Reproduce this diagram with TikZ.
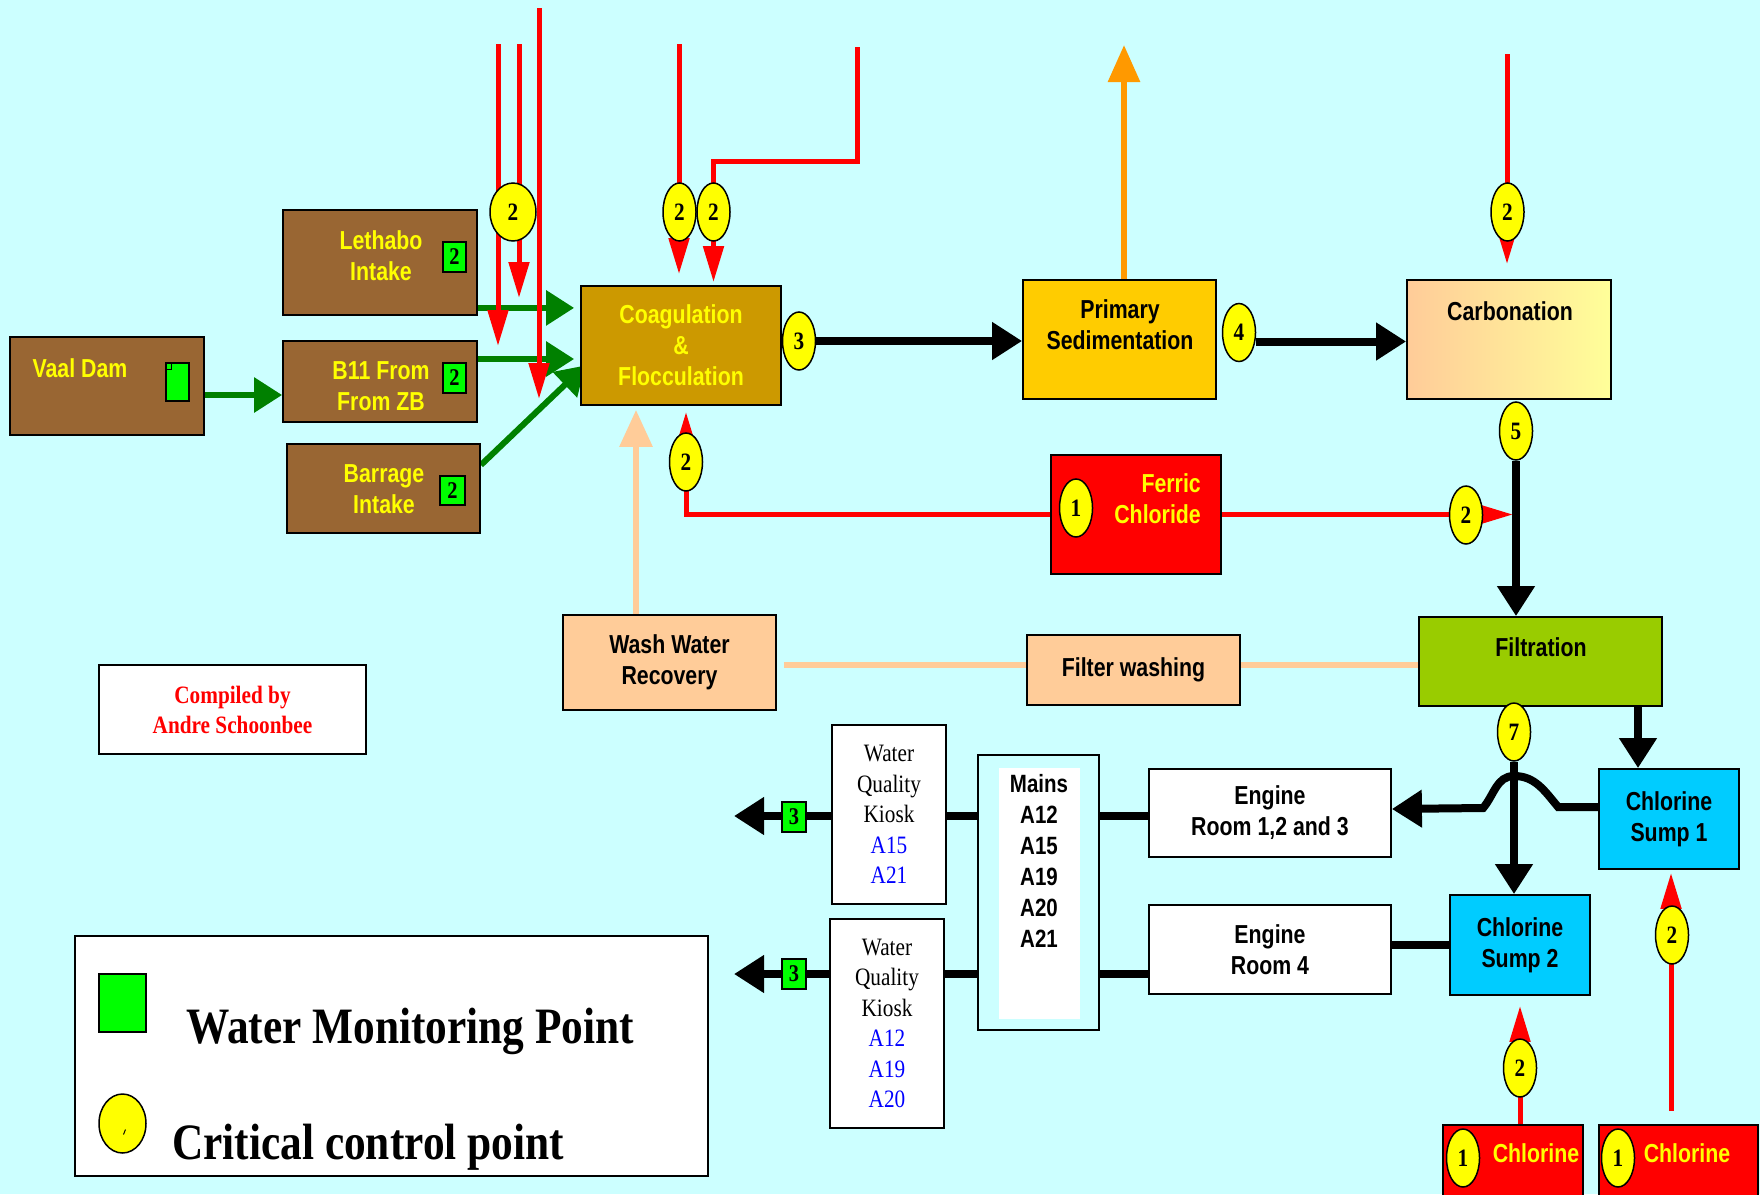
\documentclass[tikz,border=0pt]{standalone}
\usepackage{fontspec}
\setmainfont{Liberation Serif}
\newfontfamily\narrowsans[FakeStretch=0.82]{Liberation Sans}
\newfontfamily\narrowserif[FakeStretch=0.85]{Liberation Serif}
\usetikzlibrary{arrows.meta,shapes.geometric}

\definecolor{bgcyan}{HTML}{CCFFFF}
\definecolor{brownbox}{HTML}{996633}
\definecolor{coagcol}{HTML}{CC9900}
\definecolor{sedcol}{HTML}{FFCC00}
\definecolor{peach}{HTML}{FFCC99}
\definecolor{paleyel}{HTML}{FFFF99}
\definecolor{filtcol}{HTML}{99CC00}
\definecolor{sumpcol}{HTML}{00CCFF}
\definecolor{ccpyel}{HTML}{FFFF00}
\definecolor{txtyel}{HTML}{FFFF00}
\definecolor{wmpgreen}{HTML}{00FF00}
\definecolor{flowgreen}{HTML}{008000}
\definecolor{sludge}{HTML}{FF9900}

\pgfdeclarelayer{background}
\pgfdeclarelayer{pipes}
\pgfsetlayers{background,pipes,main}

\tikzset{
  plant/.style={draw,line width=1.8pt,inner sep=0pt,align=center,
    font=\narrowsans\bfseries\fontsize{26}{31}\selectfont},
  intake/.style={plant,fill=brownbox},
  lbl/.style={inner sep=0pt,align=center,font=\narrowsans\bfseries\fontsize{26}{31}\selectfont},
  kiosk/.style={plant,fill=white,minimum width=114pt,font=\narrowserif\fontsize{25}{30.5}\selectfont},
  legtxt/.style={inner sep=0pt,font=\narrowserif\bfseries\fontsize{51}{60}\selectfont},
  ccp/.style={ellipse,draw,line width=1.5pt,fill=ccpyel,inner sep=0pt,
    minimum width=33pt,minimum height=58pt,font=\narrowserif\bfseries\fontsize{25}{25}\selectfont},
  wmp/.style={draw,line width=1.8pt,fill=wmpgreen,inner sep=0pt,minimum width=23pt,
    minimum height=30pt,font=\narrowserif\bfseries\fontsize{24}{24}\selectfont},
  flow/.style={line width=8pt,-{Triangle[length=30pt,width=36pt]}},
  pipe/.style={line width=8pt},
  gflow/.style={flowgreen,line width=6pt,-{Triangle[length=28pt,width=34pt]}},
  chem/.style={red,line width=5pt,-{Triangle[length=36pt,width=20pt]}},
  wash/.style={peach,line width=6pt},
}

\begin{document}
\begin{tikzpicture}[x=1pt,y=-1pt]
\useasboundingbox (0,0) rectangle (1760,1194);
\begin{pgfonlayer}{background}
\fill[bgcyan] (0,0) rectangle (1760,1194);
\end{pgfonlayer}

% intakes
\node[intake,minimum width=194pt,minimum height=98pt] (vaal) at (107,386) {};
\node[lbl,text=txtyel] (vaaltxt) at (80,368) {Vaal Dam};
\node[wmp,minimum height=38pt] (vaalwmp) at (177.5,382) {};
\draw[line width=1pt] ([shift={(0,7)}]vaalwmp.north west) -| ([shift={(6,0)}]vaalwmp.north west);

\node[intake,minimum width=194pt,minimum height=105pt] (leth) at (380,262.5) {};
\node[lbl,text=txtyel] at (381,256) {Lethabo\\Intake};
\node[wmp] (lethwmp) at (454.5,257) {2};

\node[intake,minimum width=194pt,minimum height=81pt] (b11) at (380,381.5) {};
\node[lbl,text=txtyel] at (381,386) {B11 From\\From ZB};
\node[wmp] (b11wmp) at (454.5,378) {2};

\node[intake,minimum width=193pt,minimum height=89pt] (bar) at (383.5,488.5) {};
\node[lbl,text=txtyel] at (384,489) {Barrage\\Intake};
\node[wmp,minimum width=25pt,minimum height=29pt] (barwmp) at (452.5,490.5) {2};

% treatment train
\node[plant,fill=coagcol,text=txtyel,minimum width=200pt,minimum height=119pt] (coag) at (681,345.5) {Coagulation\\\&\\Flocculation};
\node[ccp] (c3) at (799,341) {3};
\node[plant,fill=sedcol,minimum width=193pt,minimum height=119pt] (prim) at (1119.5,339.5) {};
\node[lbl] at (1120,325) {Primary\\Sedimentation};
\node[ccp] (c4) at (1239,332.5) {4};
\node[plant,left color=peach,right color=paleyel,minimum width=204pt,minimum height=119pt] (carb) at (1509,339.5) {};
\node[lbl] at (1510,311) {Carbonation};
\node[ccp] (c2carb) at (1507.5,212) {2};
\node[ccp] (c5) at (1516,431) {5};

\node[plant,fill=red,minimum width=170pt,minimum height=119pt] (ferric) at (1136,514.5) {};
\node[lbl,text=txtyel,align=right,anchor=east] at (1201,499) {Ferric\\Chloride};
\node[ccp] (c1fer) at (1076,508) {1};
\node[ccp] (c2fer) at (1466,515) {2};
\node[ccp] (c2low) at (686,462) {2};
\node[ccp,minimum width=46pt] (c2in) at (513,212) {2};
\node[ccp] (c2a) at (679.5,212) {2};
\node[ccp] (c2b) at (713.5,212) {2};

\node[plant,fill=peach,minimum width=213pt,minimum height=95pt] (wash) at (669.5,662.5) {Wash Water\\Recovery};
\node[plant,fill=peach,minimum width=213pt,minimum height=70pt] (filterw) at (1133.5,670) {Filter washing};
\node[plant,fill=filtcol,minimum width=243pt,minimum height=89pt] (filt) at (1540.5,661.5) {};
\node[lbl] at (1541,647) {Filtration};
\node[ccp] (c7) at (1514,732) {7};

% distribution
\node[plant,fill=sumpcol,minimum width=140pt,minimum height=100pt] (sump1) at (1669,819) {Chlorine\\Sump 1};
\node[plant,fill=sumpcol,minimum width=140pt,minimum height=100pt] (sump2) at (1520,945) {Chlorine\\Sump 2};
\node[plant,fill=white,minimum width=242pt,minimum height=88pt] (eng123) at (1270,813) {Engine\\Room 1,2 and 3};
\node[plant,fill=white,minimum width=242pt,minimum height=89pt] (eng4) at (1270,949.5) {Engine\\Room 4};

\node[plant,minimum width=121pt,minimum height=275pt] (mains) at (1038.5,892.5) {};
\node[fill=white,inner sep=0pt,minimum width=81pt,minimum height=251pt] (mainsin) at (1039.5,893.5) {};
\node[lbl,font=\narrowsans\bfseries\fontsize{25}{31}\selectfont] at (1039,860.5) {Mains\\A12\\A15\\A19\\A20\\A21};

\node[kiosk,minimum height=179pt] (k1) at (889,814.5) {Water\\Quality\\Kiosk\\\textcolor{blue}{A15}\\\textcolor{blue}{A21}};
\node[kiosk,minimum height=209pt] (k2) at (887,1023.5) {Water\\Quality\\Kiosk\\\textcolor{blue}{A12}\\\textcolor{blue}{A19}\\\textcolor{blue}{A20}};
\node[wmp,minimum width=24pt] (k1wmp) at (794,817) {3};
\node[wmp,minimum width=24pt] (k2wmp) at (794,974) {3};

\node[plant,fill=red,minimum width=140pt,minimum height=80pt] (chl1) at (1513,1165) {};
\node[lbl,text=txtyel] at (1536,1153) {Chlorine};
\node[ccp] (c1chl1) at (1463,1158) {1};
\node[plant,fill=red,minimum width=159pt,minimum height=80pt] (chl2) at (1678.5,1165) {};
\node[lbl,text=txtyel] at (1687,1153) {Chlorine};
\node[ccp] (c1chl2) at (1618,1158) {1};
\node[ccp] (c2s2) at (1520,1068) {2};
\node[ccp] (c2s1) at (1672,935) {2};

\node[plant,fill=white,text=red,minimum width=267pt,minimum height=89pt,
  font=\narrowserif\bfseries\fontsize{25}{30}\selectfont] (credit) at (232.5,709.5) {Compiled by\\Andre Schoonbee};

% legend
\node[plant,fill=white,minimum width=633pt,minimum height=240pt] (legend) at (391.5,1056) {};
\node[wmp,minimum width=47pt,minimum height=58pt] (legwmp) at (122.5,1003) {};
\node[ccp,minimum width=47pt,minimum height=59pt] (legccp) at (122.5,1123.5) {};
\draw[line width=1pt] ([shift={(1,11)}]legccp.center) -- ++(2,-5);
\node[legtxt,anchor=base west] at (186,1043) {Water Monitoring Point};
\node[legtxt,anchor=base west] at (172,1159) {Critical control point};

\coordinate (r1) at (0,816);
\coordinate (r2) at (0,974);
\coordinate (out1) at (734,816);
\coordinate (out2) at (734,974);
\coordinate (fx) at (1638,0);
\coordinate (wx) at (636,0);
\coordinate (fw) at (0,665);
\coordinate (sl) at (1124,45);
\coordinate (d1) at (498,44);
\coordinate (d2) at (519,44);
\coordinate (d3) at (539,8);
\coordinate (e1) at (498,346);
\coordinate (e2) at (519,298);
\coordinate (e3) at (539,399);
\coordinate (d4) at (679,44);
\coordinate (d5) at (857,47);
\coordinate (d6) at (1507,54);
\coordinate (d7) at (1671,1111);

\begin{pgfonlayer}{pipes}
% backwash
\draw[wash,shorten <=7pt] (wash.east |- fw) -- (filterw.west |- fw);
\draw[wash] (filterw.east |- fw) -- (filt.west |- fw);
\draw[wash,-{Triangle[length=37pt,width=32pt]},shorten >=4pt] (wash.north -| wx) -- (coag.south -| wx);

% raw water
\draw[gflow] ([yshift=-9pt]vaal.east) -- ([yshift=-9pt]vaal.east -| b11.west);
\draw[gflow,shorten >=6pt] ([yshift=8pt]leth.south east) -- ([yshift=8pt]leth.south east -| coag.west);
\draw[gflow,shorten >=6pt] ([yshift=22.5pt]b11.east) -- ([yshift=22.5pt]b11.east -| coag.west);
\draw[gflow] ([yshift=23.5pt]bar.east) -- ([shift={(5,20)}]coag.west);

% main flow
\draw[flow] (c3.east) -- (c3.east -| prim.west);
\draw[flow] ([yshift=-9pt]c4.east) -- ([yshift=-9pt]c4.east -| carb.west);
\draw[flow] (c5.south) -- (filt.north -| c5.south);
\draw[flow] (filt.south -| fx) -- (sump1.north -| fx);
\draw[flow] ([yshift=12pt]sump1.west) -- ++(-40,0) to[out=130,in=0] ++(-44,-31)
  to[out=180,in=50] ++(-31,32) -- ([yshift=4pt]eng123.east);
\draw[flow] (c7.south) -- (sump2.north -| c7.south);
\draw[pipe] (sump2.west) -- (eng4.east |- sump2.west);
\draw[pipe] (mains.east |- r1) -- (eng123.west |- r1);
\draw[pipe] (mains.east |- r2) -- (eng4.west |- r2);
\draw[pipe] (k1.east |- r1) -- (mains.west |- r1);
\draw[pipe] (k2.east |- r2) -- (mains.west |- r2);
\draw[flow] (k1.west |- r1) -- (out1);
\draw[flow] (k2.west |- r2) -- (out2);

% dosing
\draw[chem] (d1) -- (e1);
\draw[chem] (d2) -- (e2);
\draw[chem] (d3) -- (e3);
\draw[chem,shorten >=11pt] (d4) -- (coag.north -| d4);
\draw[chem,shorten >=3pt] (d5) -- ++(0,114) -| (coag.north -| c2b);
\draw[chem,shorten >=15pt] (d6) -- (carb.north -| d6);
\draw[chem,shorten >=6pt] (ferric.west) -| (coag.south -| c2low);
\draw[chem,shorten >=3pt] (ferric.east) -- (c5.south |- ferric.east);
\draw[chem,shorten >=10pt] (chl1.north -| c2s2) -- (sump2.south -| c2s2);
\draw[chem,shorten >=3pt] (d7) -- (sump1.south -| d7);

% sludge
\draw[sludge,line width=6pt,-{Triangle[length=37pt,width=31pt]}] (prim.north -| sl) -- (sl);
\end{pgfonlayer}
\end{tikzpicture}
\end{document}
